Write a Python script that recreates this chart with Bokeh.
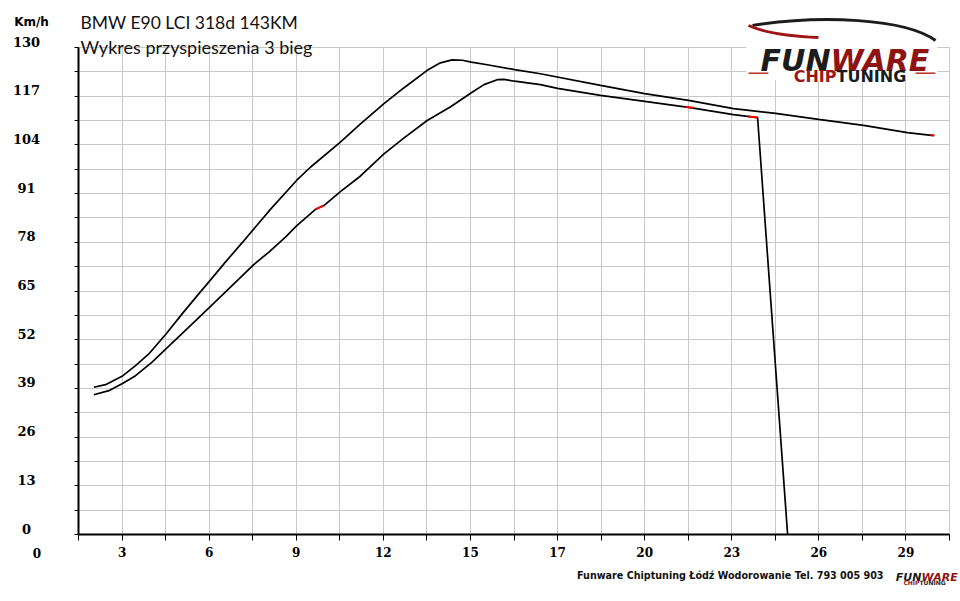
from bokeh.plotting import figure
from bokeh.models import (FixedTicker, CustomJSTickFormatter, Range1d, Label,
                          LabelSet, ColumnDataSource, Grid)
from bokeh.embed import file_html
from bokeh.resources import INLINE
from bokeh.core.properties import value

# ---------------- data ----------------
x_upper = [1.96, 2.35, 2.93, 3.35, 3.79, 4.37, 4.90, 5.46, 5.82, 6.34, 6.90, 7.84,
           8.71, 9.18, 10.15, 10.84, 11.62, 12.28, 13.06, 13.50, 13.89, 14.23, 14.53,
           15.06, 15.97, 16.83, 18.83, 20.30, 21.76, 23.26, 24.66, 26.09, 27.59,
           29.05, 29.92]
y_upper = [39.3, 40.0, 42.4, 45.1, 48.2, 53.6, 58.9, 64.3, 67.7, 72.7, 77.9, 86.8,
           94.5, 98.1, 104.6, 109.6, 115.0, 119.2, 123.9, 125.9, 126.7, 126.6, 126.1,
           125.4, 124.1, 123.0, 119.9, 117.7, 115.9, 113.7, 112.4, 110.8, 109.2,
           107.3, 106.5]

x_lower = [1.96, 2.46, 2.93, 3.35, 3.90, 4.37, 5.01, 5.82, 6.57, 7.25, 7.79, 8.34,
           8.71, 9.34, 9.62, 10.15, 10.84, 11.62, 12.28, 13.06, 13.84, 14.53,
           14.95, 15.39, 15.61, 15.97, 16.83, 17.40, 18.83, 20.30, 21.76, 23.26, 24.06,
           25.06]
y_lower = [37.3, 38.4, 40.4, 42.4, 46.0, 49.6, 54.5, 60.7, 66.5, 71.8, 75.4, 79.4,
           82.4, 86.8, 87.8, 91.4, 95.7, 101.6, 105.8, 110.5, 114.2, 117.9,
           120.1, 121.4, 121.5, 121.0, 120.1, 119.1, 117.2, 115.6, 114.0, 112.1, 111.3,
           0.0]

red_xs = [[9.34, 9.62], [21.67, 21.93], [23.76, 24.06], [29.82, 29.95]]
red_ys = [[86.8, 87.8], [114.1, 113.9], [111.6, 111.3], [106.7, 106.5]]

x_tick_step = 1.45
x_tick_count = 21
x_tick_labels = ["3", "6", "9", "12", "15", "17", "20", "23", "26", "29"]
y_tick_step = 6.5
y_tick_count = 20
y_label_values = [0, 13, 26, 39, 52, 65, 78, 91, 104, 117, 130]

title1 = "BMW E90 LCI 318d 143KM"
title2 = "Wykres przyspieszenia 3 bieg"
unit_label = "Km/h"
footer = "Funware Chiptuning Łódź Wodorowanie Tel. 793 005 903"

# ---------------- layout (pixels of the page) ----------------
W, H = 960, 601
PX_LEFT, PX_RIGHT, PX_TOP, PX_BOTTOM = 78, 949, 47, 534

x0 = x_tick_step
x1 = x_tick_step * x_tick_count
y0 = 0.0
y1 = y_tick_step * y_tick_count
sx = (PX_RIGHT - PX_LEFT) / (x1 - x0)
sy = (PX_BOTTOM - PX_TOP) / (y1 - y0)


def X(px):
    return x0 + (px - PX_LEFT) / sx


def Y(py):
    return y0 + (PX_BOTTOM - py) / sy


p = figure(width=W, height=H, x_range=Range1d(X(0), X(W)), y_range=Range1d(Y(H), Y(0)),
           output_backend="svg", toolbar_location=None, min_border=0)
p.outline_line_color = None
p.background_fill_color = "white"
p.border_fill_color = "white"

x_ticks = [x_tick_step * k for k in range(1, x_tick_count + 1)]
y_ticks = [y_tick_step * k for k in range(0, y_tick_count + 1)]

# grid restricted to the plotting area
p.xgrid.visible = False
p.ygrid.visible = False
if "cross_bounds" in Grid.properties():
    p.add_layout(Grid(dimension=0, ticker=FixedTicker(ticks=x_ticks), cross_bounds=(y0, y1),
                      grid_line_color="#c8c8c8", grid_line_width=1))
    p.add_layout(Grid(dimension=1, ticker=FixedTicker(ticks=y_ticks), cross_bounds=(x0, x1),
                      grid_line_color="#c8c8c8", grid_line_width=1))
else:
    p.segment(x0=x_ticks, y0=[y0] * len(x_ticks), x1=x_ticks, y1=[y1] * len(x_ticks),
              line_color="#c8c8c8", line_width=1)
    p.segment(x0=[x0] * len(y_ticks), y0=y_ticks, x1=[x1] * len(y_ticks), y1=y_ticks,
              line_color="#c8c8c8", line_width=1)

# axes fixed at the plotting area edges
p.xaxis.fixed_location = y0
p.xaxis.bounds = (x0, x1)
p.yaxis.fixed_location = x0
p.yaxis.bounds = (y0, y1)
p.xaxis.ticker = FixedTicker(ticks=x_ticks)
p.yaxis.ticker = FixedTicker(ticks=y_ticks)
p.xaxis.formatter = CustomJSTickFormatter(args=dict(labels=x_tick_labels, step=x_tick_step), code="""
const k = Math.round(tick / step);
if (k % 2 !== 0) return "";
const s = labels[k / 2 - 1];
return s === undefined ? "" : s;
""")
p.yaxis.formatter = CustomJSTickFormatter(code='return "";')
for ax in (p.xaxis, p.yaxis):
    ax.axis_line_color = "black"
    ax.axis_line_width = 2
    ax.major_tick_line_color = "black"
    ax.major_tick_line_width = 1
    ax.major_tick_in = 0
    ax.minor_tick_line_color = None
p.xaxis.major_tick_out = 6
p.yaxis.major_tick_out = 4
p.yaxis.major_label_standoff = 0
p.yaxis.major_label_text_font_size = "1px"
p.xaxis.major_label_standoff = 6
p.xaxis.major_label_text_font = "DejaVu Serif"
p.xaxis.major_label_text_font_style = "bold"
p.xaxis.major_label_text_font_size = "12px"
p.xaxis.major_label_text_color = "black"

# y tick labels (centered, slightly above the grid line)
ysrc = ColumnDataSource(dict(y=y_label_values, t=[str(v) for v in y_label_values],
                             x=[X(26)] * len(y_label_values)))
p.add_layout(LabelSet(x="x", y="y", text="t", source=ysrc, y_offset=6,
                      text_align="center", text_baseline="middle",
                      text_font=value("DejaVu Serif"), text_font_style="bold",
                      text_font_size="13px", text_color="black"))

# x label "0"
p.add_layout(Label(x=0, y=Y(552), x_offset=2, text="0", text_align="center",
                   text_baseline="middle", text_font="DejaVu Serif",
                   text_font_style="bold", text_font_size="12px", text_color="black"))

# logo background (white box over the grid)
p.quad(left=[X(746)], right=[X(937)], bottom=[Y(80)], top=[Y(14)],
       fill_color="white", line_color=None)

# curves
p.line(x_upper, y_upper, line_color="black", line_width=1.7)
p.line(x_lower, y_lower, line_color="black", line_width=1.7)
p.multi_line(red_xs, red_ys, line_color="red", line_width=2)

# titles
p.add_layout(Label(x=X(80), y=Y(22), text=title1, text_baseline="alphabetic",
                   text_font="Lato", text_font_size="17.5px", text_color="#111111"))
p.add_layout(Label(x=X(80), y=Y(46), text=title2, text_baseline="alphabetic",
                   text_font="Lato", text_font_size="18px", text_color="#111111"))
p.add_layout(Label(x=X(31), y=Y(21), text=unit_label, text_align="center",
                   text_baseline="alphabetic", text_font="DejaVu Sans",
                   text_font_style="bold", text_font_size="12px", text_color="black"))

# logo: car swoosh and lettering
p.bezier(x0=[X(752)], y0=[Y(25)], x1=[X(935)], y1=[Y(40)], cx0=[X(820)], cy0=[Y(14)],
         cx1=[X(905)], cy1=[Y(18)], line_color="#1c1c1c", line_width=3)
p.bezier(x0=[X(748)], y0=[Y(25)], x1=[X(818)], y1=[Y(37)], cx0=[X(768)], cy0=[Y(34)],
         cx1=[X(795)], cy1=[Y(36)], line_color="#a01515", line_width=3)
p.add_layout(Label(x=X(830), y=Y(60), text="FUN", text_align="right",
                   text_baseline="alphabetic", text_font="DejaVu Sans",
                   text_font_style="bold italic", text_font_size="30px",
                   text_color="#1c1c1c"))
p.add_layout(Label(x=X(830), y=Y(60), text="WARE", text_align="left",
                   text_baseline="alphabetic", text_font="DejaVu Sans",
                   text_font_style="bold italic", text_font_size="30px",
                   text_color="#8e1414"))
p.add_layout(Label(x=X(836), y=Y(76), text="CHIP", text_align="right",
                   text_baseline="alphabetic", text_font="DejaVu Sans",
                   text_font_style="bold", text_font_size="16px", text_color="#9e1515"))
p.add_layout(Label(x=X(836), y=Y(76), text="TUNING", text_align="left",
                   text_baseline="alphabetic", text_font="DejaVu Sans",
                   text_font_style="bold", text_font_size="16px", text_color="#1c1c1c"))
for cx in (758, 925):
    p.add_layout(Label(x=X(cx), y=Y(71), text="\u2014", text_align="center",
                       text_baseline="middle", text_font="DejaVu Sans",
                       text_font_size="22px", text_color="#c0392b"))

# footer
p.add_layout(Label(x=X(883), y=Y(575), text=footer, text_align="right",
                   text_baseline="alphabetic", text_font="DejaVu Sans",
                   text_font_style="bold", text_font_size="9.6px", text_color="#111111"))
p.add_layout(Label(x=X(921), y=Y(577), text="FUN", text_align="right",
                   text_baseline="alphabetic", text_font="DejaVu Sans",
                   text_font_style="bold italic", text_font_size="11px",
                   text_color="#1c1c1c"))
p.add_layout(Label(x=X(921), y=Y(577), text="WARE", text_align="left",
                   text_baseline="alphabetic", text_font="DejaVu Sans",
                   text_font_style="bold italic", text_font_size="11px",
                   text_color="#8e1414"))
p.add_layout(Label(x=X(919), y=Y(582), text="CHIP", text_align="right",
                   text_baseline="middle", text_font="DejaVu Sans",
                   text_font_style="bold", text_font_size="6px", text_color="#9e1515"))
p.add_layout(Label(x=X(919), y=Y(582), text="TUNING", text_align="left",
                   text_baseline="middle", text_font="DejaVu Sans",
                   text_font_style="bold", text_font_size="6px", text_color="#1c1c1c"))

open("out.html", "w").write(file_html(p, INLINE))
